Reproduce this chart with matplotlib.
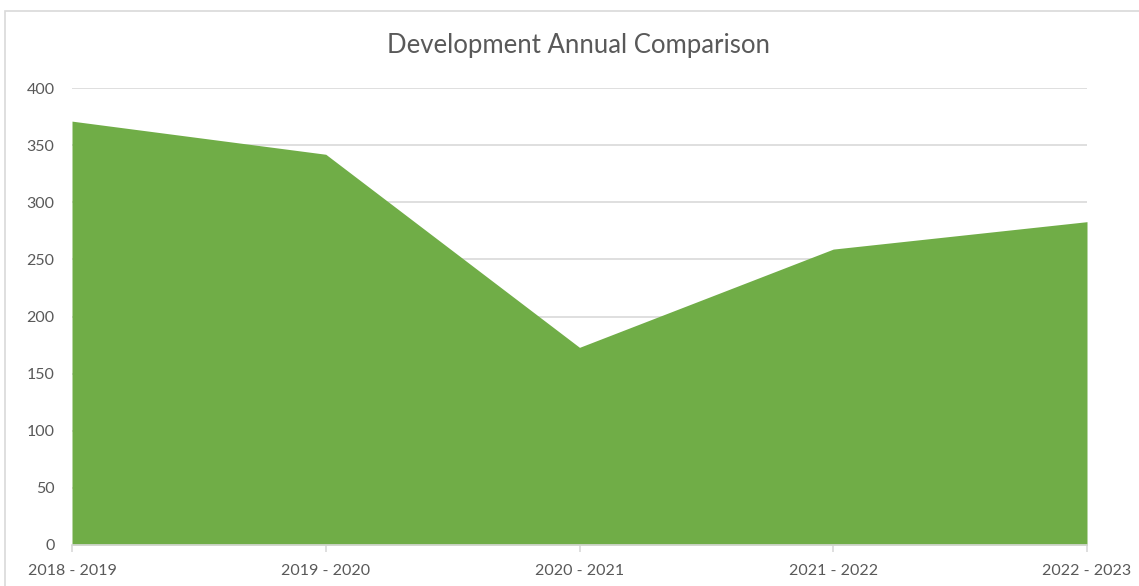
import matplotlib
matplotlib.use("Agg")
import matplotlib.pyplot as plt
from matplotlib.patches import Rectangle

categories = ["2018 - 2019", "2019 - 2020", "2020 - 2021", "2021 - 2022", "2022 - 2023"]
values = [371, 342, 173, 259, 283]
yticks = [0, 50, 100, 150, 200, 250, 300, 350, 400]
title = "Development Annual Comparison"

plt.rcParams['font.family'] = ['Lato', 'DejaVu Sans']

W, H = 1139, 586
fig = plt.figure(figsize=(W / 100, H / 100), dpi=100)
fig.patch.set_facecolor("white")

# chart border (extends beyond the right and bottom edges)
fig.patches.append(Rectangle((5 / W, -10 / H), (W + 10) / W, 1 - 11 / H + 10 / H, transform=fig.transFigure,
                             fill=False, edgecolor="#D9D9D9", linewidth=1.2))

ax = fig.add_axes([72 / W, 1 - 545 / H, (1087 - 72) / W, (545 - 88) / H])
x = list(range(len(categories)))
ax.fill_between(x, values, 0, color="#70AD47", linewidth=0, zorder=2)

ax.set_xlim(0, len(categories) - 1)
ax.set_ylim(0, 400)
ax.set_yticks(yticks)
ax.set_yticklabels([str(v) for v in yticks])
ax.set_xticks(x)
ax.set_xticklabels(categories)

ax.grid(axis="y", color="#D9D9D9", linewidth=1.2, zorder=1)
ax.set_axisbelow(True)
for s in ["top", "right", "left"]:
    ax.spines[s].set_visible(False)
ax.spines["bottom"].set_color("#D9D9D9")
ax.spines["bottom"].set_linewidth(1.2)
ax.spines["bottom"].set_zorder(3)

ax.tick_params(axis="y", length=0, pad=12.5, labelsize=11.5, labelcolor="#595959")
ax.tick_params(axis="x", length=5, width=1.2, color="#D9D9D9", pad=9, labelsize=11.5, labelcolor="#595959")

fig.text((387 + 770) / 2 / W, 1 - 46 / H, title, ha="center", va="center",
         fontsize=18.5, color="#595959")

fig.savefig("out.png", dpi=100, facecolor="white")
